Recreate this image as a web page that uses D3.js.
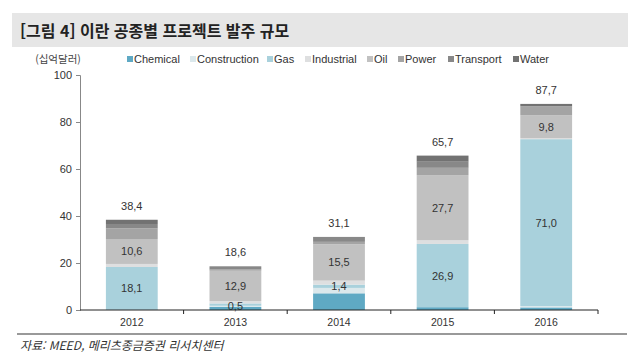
<!DOCTYPE html>
<html lang="ko">
<head>
  <meta charset="UTF-8">
  <title>이란 공종별 프로젝트 발주 규모</title>
  <script src="https://d3js.org/d3.v7.min.js"></script>
  <style>
    body { margin: 0; background: #fff; }
    svg { display: block; font-family: "Liberation Sans", Arial, sans-serif; }
  </style>
</head>
<body>
  <svg width="640" height="363"></svg>

  <script>
    // data (십억달러)
    const years = ["2012", "2013", "2014", "2015", "2016"];
    const sectors = ["Chemical", "Construction", "Gas", "Industrial", "Oil", "Power", "Transport", "Water"];
    const chemical     = [0.2, 1.3, 7.1, 1.2, 1.1];
    const construction = [0.0, 0.5, 2.3, 0.0, 0.6];
    const gas          = [18.1, 1.0, 1.4, 26.9, 71.0];
    const industrial   = [1.3, 1.0, 1.7, 1.6, 0.4];
    const oil          = [10.6, 12.9, 15.5, 27.7, 9.8];
    const power        = [4.5, 0.5, 1.0, 3.1, 3.8];
    const transport    = [1.9, 1.4, 2.1, 2.6, 0.0];
    const water        = [1.8, 0.0, 0.0, 2.6, 1.0];
    const yTicks = [0, 20, 40, 60, 80, 100];
    // which segments carry a value label
    const labelled = [
      ["2012", "Gas"], ["2012", "Oil"],
      ["2013", "Construction"], ["2013", "Oil"],
      ["2014", "Gas"], ["2014", "Oil"],
      ["2015", "Gas"], ["2015", "Oil"],
      ["2016", "Gas"], ["2016", "Oil"]
    ];

    const colors = {
      Chemical: "#5fa9c4", Construction: "#dbe8ec", Gas: "#a9d1dc", Industrial: "#dedfe0",
      Oil: "#c1c1c1", Power: "#a4a4a4", Transport: "#888888", Water: "#727272"
    };

    const series = [chemical, construction, gas, industrial, oil, power, transport, water];
    const table = years.map((y, i) => {
      const row = { year: y };
      sectors.forEach((s, j) => row[s] = series[j][i]);
      return row;
    });

    const fmt = v => v.toFixed(1).replace(".", ",");

    const svg = d3.select("svg");

    // title bar
    svg.append("rect")
      .attr("x", 12).attr("y", 13).attr("width", 616).attr("height", 34)
      .attr("fill", "#e6e6e6");
    svg.append("text")
      .attr("x", 20).attr("y", 37)
      .attr("font-family", "'Noto Sans CJK KR', sans-serif")
      .attr("font-weight", "bold").attr("font-size", 16)
      .attr("fill", "#222")
      .text("[그림 4] 이란 공종별 프로젝트 발주 규모");

    // unit
    svg.append("text")
      .attr("x", 58).attr("y", 63)
      .attr("text-anchor", "middle")
      .attr("font-family", "'Noto Sans CJK KR', sans-serif")
      .attr("font-size", 10.5).attr("fill", "#444")
      .text("(십억달러)");

    // scales
    const x = d3.scaleBand().domain(years).range([80, 598]).paddingInner(0.5).paddingOuter(0.25);
    const y = d3.scaleLinear().domain([0, 100]).range([310, 75]);

    const stacked = d3.stack().keys(sectors)(table);

    // bars
    svg.append("g").selectAll("g")
      .data(stacked)
      .join("g")
      .attr("fill", d => colors[d.key])
      .selectAll("rect")
      .data(d => d)
      .join("rect")
      .attr("x", d => x(d.data.year))
      .attr("width", x.bandwidth())
      .attr("y", d => y(d[1]))
      .attr("height", d => y(d[0]) - y(d[1]));

    // segment labels
    svg.append("g").selectAll("text")
      .data(labelled)
      .join("text")
      .attr("x", d => x(d[0]) + x.bandwidth() / 2)
      .attr("y", d => {
        const seg = stacked[sectors.indexOf(d[1])][years.indexOf(d[0])];
        return y((seg[0] + seg[1]) / 2) + 4;
      })
      .attr("text-anchor", "middle")
      .attr("font-size", 11).attr("fill", "#333")
      .text(d => fmt(table[years.indexOf(d[0])][d[1]]));

    // totals
    svg.append("g").selectAll("text")
      .data(table)
      .join("text")
      .attr("x", d => x(d.year) + x.bandwidth() / 2)
      .attr("y", d => y(d3.sum(sectors, s => d[s])) - 10)
      .attr("text-anchor", "middle")
      .attr("font-size", 11).attr("fill", "#333")
      .text(d => fmt(d3.sum(sectors, s => d[s])));

    // y axis
    const yAxis = svg.append("g")
      .attr("transform", "translate(80,0)")
      .call(d3.axisLeft(y).tickValues(yTicks).tickSize(4).tickPadding(4));
    yAxis.select(".domain").attr("stroke", "#888");
    yAxis.selectAll(".tick line").attr("stroke", "#888");
    yAxis.selectAll("text").attr("font-size", 11).attr("fill", "#333")
      .attr("font-family", "'Liberation Sans', Arial, sans-serif");

    // x axis
    const xAxis = svg.append("g").attr("transform", "translate(0,310)");
    xAxis.append("line")
      .attr("x1", 80).attr("x2", 598).attr("stroke", "#222");
    xAxis.selectAll(".sep")
      .data(years)
      .join("line")
      .attr("class", "sep")
      .attr("x1", d => x(d) + x.bandwidth() + x.step() * 0.25)
      .attr("x2", d => x(d) + x.bandwidth() + x.step() * 0.25)
      .attr("y1", 0).attr("y2", 4)
      .attr("stroke", "#222");
    xAxis.selectAll(".yr")
      .data(years)
      .join("text")
      .attr("class", "yr")
      .attr("x", d => x(d) + x.bandwidth() / 2)
      .attr("y", 16)
      .attr("text-anchor", "middle")
      .attr("font-size", 10.5).attr("fill", "#333")
      .text(d => d);

    // legend
    const legendX = [127, 190, 267, 305, 367, 398, 448, 513];
    const legend = svg.append("g").selectAll("g")
      .data(sectors)
      .join("g")
      .attr("transform", (d, i) => `translate(${legendX[i]},59)`);
    legend.append("rect")
      .attr("x", 0).attr("y", -3).attr("width", 6).attr("height", 6)
      .attr("fill", d => colors[d]);
    legend.append("text")
      .attr("x", 7).attr("y", 4)
      .attr("font-size", 11).attr("fill", "#333")
      .text(d => d);

    // bottom rule + source
    svg.append("line")
      .attr("x1", 17).attr("x2", 627).attr("y1", 334).attr("y2", 334)
      .attr("stroke", "#777").attr("stroke-width", 1.5);
    svg.append("text")
      .attr("x", 20).attr("y", 350)
      .attr("font-family", "'Noto Sans CJK KR', sans-serif")
      .attr("font-style", "italic")
      .attr("font-size", 12).attr("fill", "#333")
      .text("자료: MEED, 메리츠종금증권 리서치센터");
  </script>
</body>
</html>
